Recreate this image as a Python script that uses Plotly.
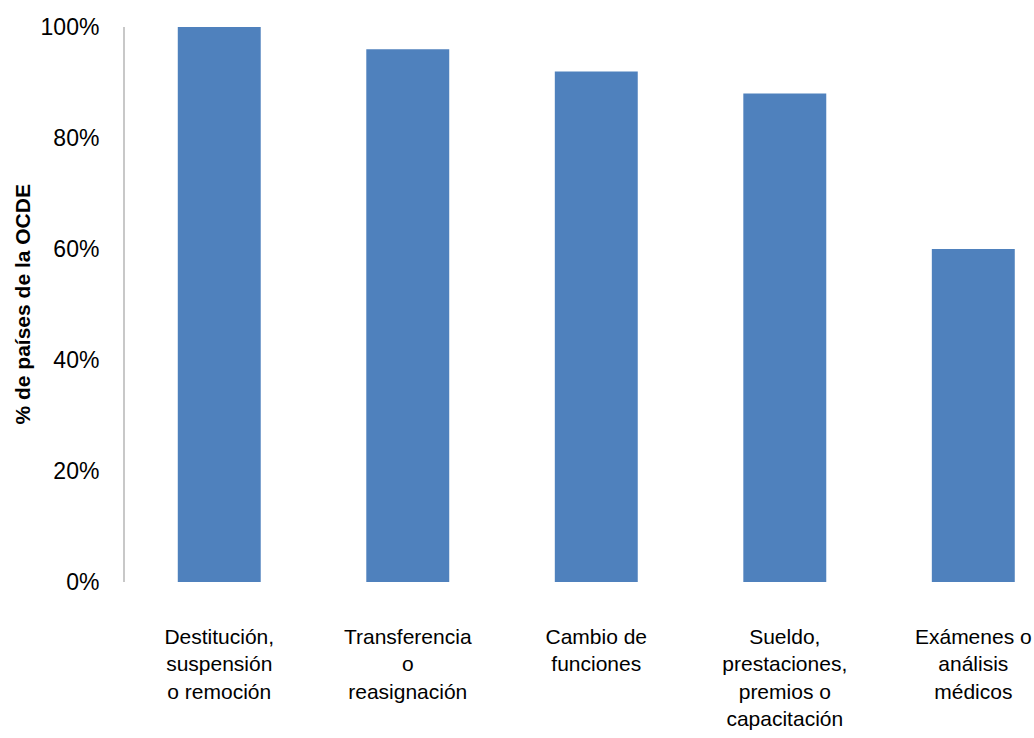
import plotly.graph_objects as go

categories = [
    "Destitución,<br>suspensión<br>o remoción",
    "Transferencia<br>o<br>reasignación",
    "Cambio de<br>funciones",
    "Sueldo,<br>prestaciones,<br>premios o<br>capacitación",
    "Exámenes o<br>análisis<br>médicos",
]
values = [100, 96, 92, 88, 60]
y_ticks = [0, 20, 40, 60, 80, 100]
y_ticklabels = ["0%", "20%", "40%", "60%", "80%", "100%"]
y_title = "% de países de la OCDE"

FONT = "Liberation Sans Narrow, Arial Narrow, Liberation Sans, Arial, sans-serif"

fig = go.Figure(
    go.Bar(
        x=list(range(len(categories))),
        y=values,
        marker=dict(color="#4F81BD", line=dict(width=0)),
        hoverinfo="skip",
    )
)

fig.update_layout(
    width=1034,
    height=738,
    margin=dict(l=125, r=0, t=27, b=156),
    paper_bgcolor="white",
    plot_bgcolor="white",
    bargap=0.56,
    showlegend=False,
    font=dict(family=FONT, color="black"),
)

fig.update_xaxes(
    range=[-0.5, 4.322],
    tickmode="array",
    tickvals=list(range(len(categories))),
    ticktext=categories,
    showline=False,
    showgrid=False,
    zeroline=False,
    ticks="",
    tickangle=0,
    tickfont=dict(size=21, family=FONT),
    ticklabelstandoff=40,
    automargin=False,
)

fig.update_yaxes(
    range=[0, 100],
    tickmode="array",
    tickvals=y_ticks,
    ticktext=y_ticklabels,
    showline=True,
    linecolor="#C8C8C8",
    linewidth=2,
    showgrid=False,
    zeroline=False,
    ticks="",
    tickfont=dict(size=23, family=FONT),
    ticklabelstandoff=19,
    automargin=False,
)

fig.add_annotation(
    text="<b>" + y_title + "</b>",
    xref="paper", yref="paper",
    x=0, y=0.5,
    xanchor="center",
    xshift=-103,
    textangle=-90,
    showarrow=False,
    font=dict(size=21, family=FONT, color="black"),
)

fig.write_html("out.html")
